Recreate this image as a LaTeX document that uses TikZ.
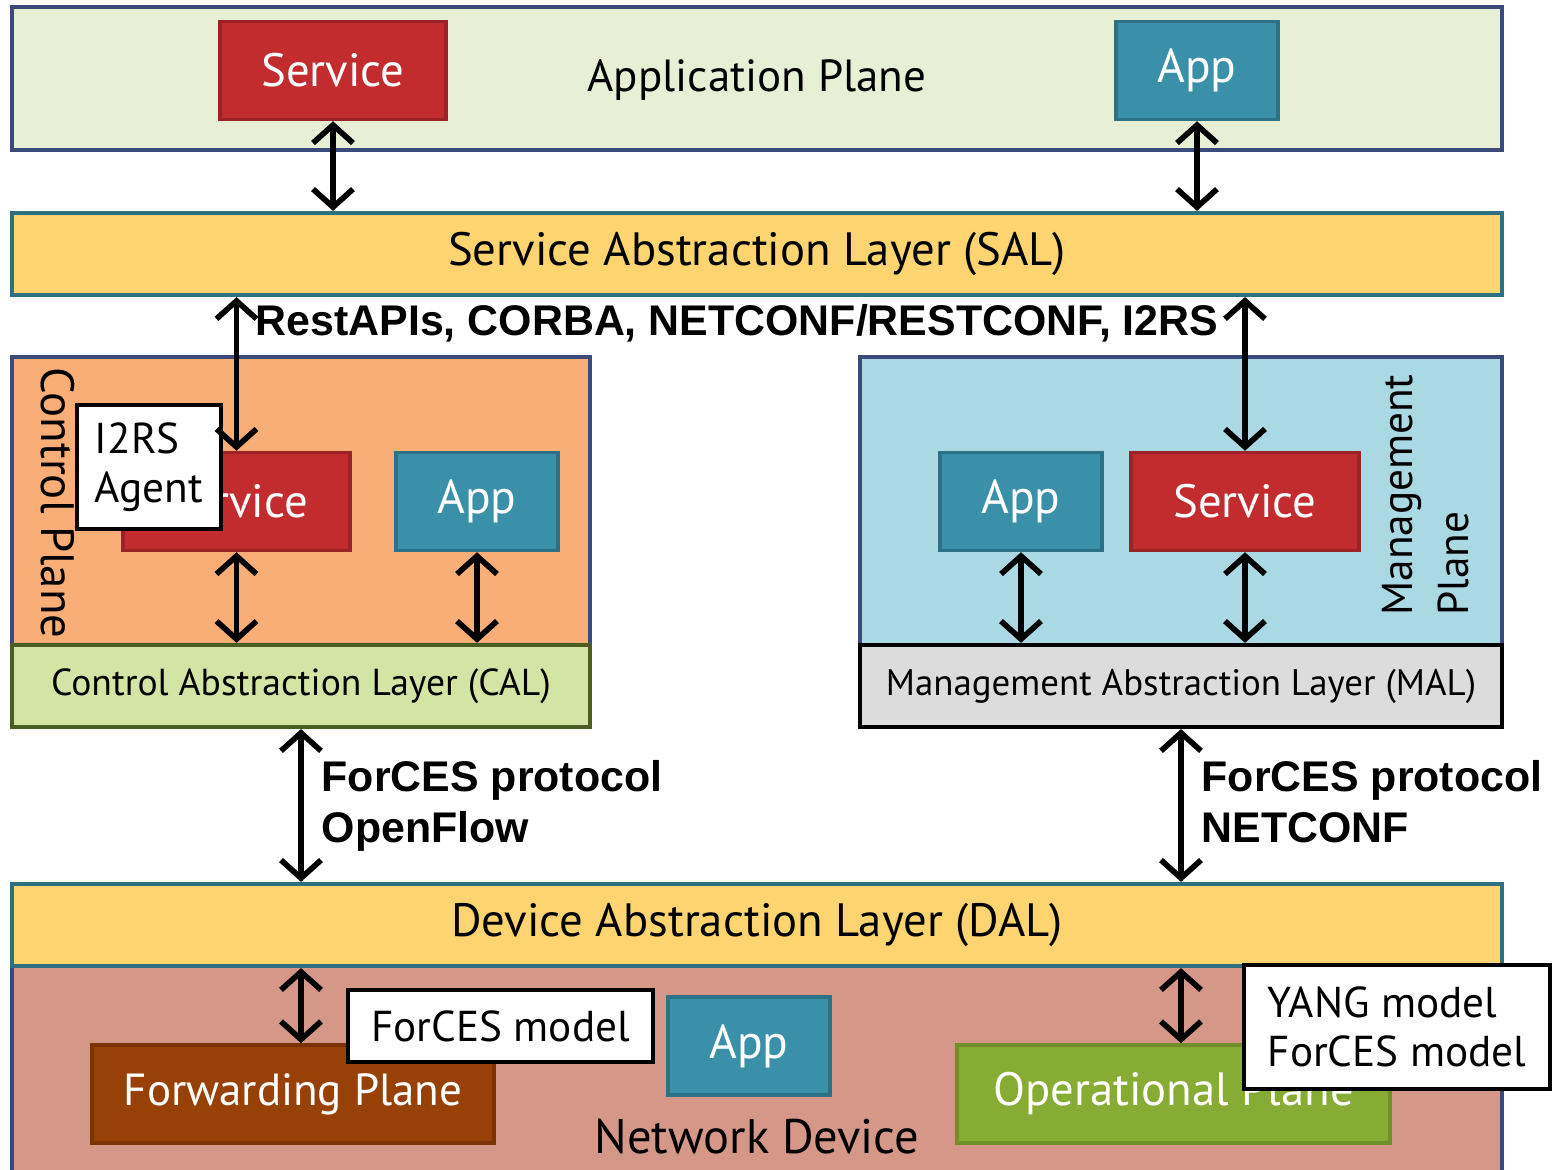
\documentclass[tikz,border=0pt]{standalone}
\usepackage{xcolor}
\usepackage{fontspec}
\setmainfont{PT Sans}
\setsansfont{Liberation Sans}
\usepackage{tikz}
\usetikzlibrary{arrows.meta}
\definecolor{planeedge}{HTML}{3B4A78}
\definecolor{appplanecolor}{HTML}{E7F0D5}
\definecolor{servicecolor}{HTML}{C22C2E}
\definecolor{serviceedge}{HTML}{9B2226}
\definecolor{appcolor}{HTML}{3A90A8}
\definecolor{appedge}{HTML}{2D7186}
\definecolor{layercolor}{HTML}{FDD46F}
\definecolor{layeredge}{HTML}{2E6F80}
\definecolor{ctrlcolor}{HTML}{F9AE78}
\definecolor{calcolor}{HTML}{D3E4A5}
\definecolor{caledge}{HTML}{4B5F24}
\definecolor{mgmtcolor}{HTML}{AAD8E3}
\definecolor{malcolor}{HTML}{DCDCDC}
\definecolor{devicecolor}{HTML}{D59788}
\definecolor{fwdcolor}{HTML}{974106}
\definecolor{fwdedge}{HTML}{7A3404}
\definecolor{opercolor}{HTML}{86AC34}
\definecolor{operedge}{HTML}{6F8F2B}

\tikzset{
  plane/.style={draw=planeedge, line width=1.2pt, rectangle},
  layer/.style={draw=layeredge, fill=layercolor, line width=1.2pt, rectangle, minimum width=14.9cm, minimum height=0.82cm, font=\fontsize{13.3}{16}\selectfont},
  servicebox/.style={draw=serviceedge, fill=servicecolor, line width=1pt, rectangle, text=white, minimum height=0.98cm, font=\fontsize{13.3}{16}\selectfont},
  appbox/.style={draw=appedge, fill=appcolor, line width=1pt, rectangle, text=white, minimum width=1.62cm, minimum height=0.98cm, font=\fontsize{13.5}{16}\selectfont},
  notebox/.style={draw=black, fill=white, line width=1.2pt, rectangle, align=left, font=\fontsize{12.3}{14}\selectfont},
  biarrow/.style={{Straight Barb[length=1.8mm, width=4mm]}-{Straight Barb[length=1.8mm, width=4mm]}, line width=1.6pt},
  protolabel/.style={anchor=north west, inner sep=0pt, align=left, font=\sffamily\bfseries\fontsize{12.2}{14.5}\selectfont},
}

\begin{document}
\begin{tikzpicture}%
\useasboundingbox (0,0) rectangle (15.55,-11.7);%
% application plane
\node[plane, fill=appplanecolor, minimum width=14.9cm, minimum height=1.43cm] (appplane) at (7.57, -0.785) {};%
\node[servicebox, minimum width=2.26cm] (svcA) at (3.33, -0.705) {Service};%
\node[appbox] (appA) at (11.97, -0.705) {App};%
\node[font=\fontsize{12.8}{16}\selectfont] (appplanelabel) at (7.57, -0.80) {Application Plane};%
% service abstraction layer
\node[layer] (sal) at (7.57, -2.54) {Service Abstraction Layer (SAL)};%
\node[font=\sffamily\bfseries\fontsize{12.2}{14}\selectfont] (apis) at (7.37, -3.23) {RestAPIs, CORBA, NETCONF/RESTCONF, I2RS};%
% control plane
\node[plane, fill=ctrlcolor, minimum width=5.78cm, minimum height=2.88cm] (ctrl) at (3.01, -5.01) {};%
\node[plane, draw=caledge, fill=calcolor, minimum width=5.78cm, minimum height=0.82cm, font=\fontsize{10.7}{13}\selectfont] (cal) at (3.01, -6.86) {Control Abstraction Layer (CAL)};%
\node[servicebox, minimum width=2.27cm] (svcC) at (2.365, -5.015) {Service};%
\node[appbox] (appC) at (4.77, -5.015) {App};%
\node[notebox, minimum width=1.44cm, minimum height=1.24cm] (agent) at (1.49, -4.67) {I2RS\\Agent};%
\node[rotate=-90, font=\fontsize{13.3}{16}\selectfont] (ctrllabel) at (0.58, -5.03) {Control Plane};%
% management plane
\node[plane, fill=mgmtcolor, minimum width=6.42cm, minimum height=2.88cm] (mgmt) at (11.81, -5.01) {};%
\node[plane, draw=black, fill=malcolor, minimum width=6.42cm, minimum height=0.82cm, font=\fontsize{10.5}{13}\selectfont] (mal) at (11.81, -6.86) {Management Abstraction Layer (MAL)};%
\node[appbox] (appM) at (10.21, -5.015) {App};%
\node[servicebox, minimum width=2.28cm] (svcM) at (12.45, -5.015) {Service};%
\node[rotate=90, align=left, font=\fontsize{12.3}{16}\selectfont] (mgmtlabel) at (14.26, -4.95) {Management\\Plane};%
% protocols between the planes and the device
\node[protolabel] (ctrlproto) at (3.21, -7.60) {ForCES protocol\\OpenFlow};%
\node[protolabel] (mgmtproto) at (12.01, -7.60) {ForCES protocol\\NETCONF};%
% network device
\node[plane, fill=devicecolor, minimum width=14.9cm, minimum height=2.3cm] (netdev) at (7.57, -10.81) {};%
\node[layer] (dal) at (7.57, -9.25) {Device Abstraction Layer (DAL)};%
\node[rectangle, draw=fwdedge, fill=fwdcolor, line width=1pt, text=white, minimum width=4.02cm, minimum height=0.98cm, font=\fontsize{12.8}{16}\selectfont] (fwd) at (2.93, -10.94) {Forwarding Plane};%
\node[notebox, minimum width=3.05cm, minimum height=0.72cm] (fmodel) at (5.005, -10.26) {ForCES model};%
\node[appbox] (appD) at (7.49, -10.46) {App};%
\node[font=\fontsize{13.8}{16}\selectfont] (netdevlabel) at (7.57, -11.37) {Network Device};%
\node[rectangle, draw=operedge, fill=opercolor, line width=1pt, text=white, minimum width=4.33cm, minimum height=0.98cm, font=\fontsize{13.3}{16}\selectfont] (oper) at (11.735, -10.94) {Operational Plane};%
\node[notebox, minimum width=3.06cm, minimum height=1.24cm] (ymodel) at (13.97, -10.27) {YANG model\\ForCES model};%
% connectors
\draw[biarrow] (svcA.south) -- (svcA.south |- sal.north);%
\draw[biarrow] (appA.south) -- (appA.south |- sal.north);%
\draw[biarrow] (svcC.north |- sal.south) -- (svcC.north);%
\draw[biarrow] (svcM.north |- sal.south) -- (svcM.north);%
\draw[biarrow] (svcC.south) -- (svcC.south |- cal.north);%
\draw[biarrow] (appC.south) -- (appC.south |- cal.north);%
\draw[biarrow] (appM.south) -- (appM.south |- mal.north);%
\draw[biarrow] (svcM.south) -- (svcM.south |- mal.north);%
\draw[biarrow] (cal.south) -- (cal.south |- dal.north);%
\draw[biarrow] (mal.south) -- (mal.south |- dal.north);%
\draw[biarrow] (cal.south |- dal.south) -- (cal.south |- fwd.north);%
\draw[biarrow] (mal.south |- dal.south) -- (mal.south |- oper.north);%
\end{tikzpicture}
\end{document}
